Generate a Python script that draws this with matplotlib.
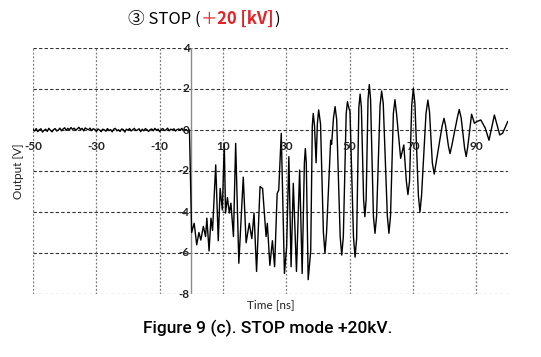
import matplotlib
matplotlib.use("Agg")
import matplotlib.pyplot as plt
import numpy as np

# pre-trigger noise, -50 .. -1 ns
noise_v = [0.03, -0.05, 0.07, -0.08, 0.01, 0.06, -0.10, -0.02, 0.04, -0.07,
           0.08, -0.01, -0.09, 0.02, 0.07, -0.05, 0.00, 0.09, -0.04, 0.05,
           0.11, -0.02, 0.08, 0.01, 0.12, 0.03, 0.09, -0.02, 0.06, 0.13,
           0.02, 0.08, -0.04, 0.10, 0.05, 0.01, 0.09, -0.03, 0.06, 0.03,
           -0.07, 0.05, 0.00, -0.08, 0.04, 0.01, -0.06, 0.07, -0.03, 0.02,
           -0.09, 0.04, 0.08, -0.04, 0.01, -0.07, 0.05, 0.02, -0.10, 0.04,
           -0.01, 0.07, -0.05, 0.02, 0.08, -0.03, 0.00, 0.06, -0.08, 0.04,
           -0.04, 0.07, 0.01, -0.07, 0.02, 0.05, -0.04, 0.08, -0.01, 0.04,
           -0.08, 0.02, 0.07, -0.03, 0.01, 0.09, -0.04, 0.04, 0.00, 0.06,
           -0.05, 0.02, 0.05, -0.01, 0.08, -0.04, 0.02, 0.01, -0.06]

# after trigger
post_t = [-0.6, 0.1, 0.9, 1.7, 2.4, 3.0, 3.8, 4.5, 4.9, 5.6, 6.2, 6.7, 7.7,
          8.5, 9.1, 9.8, 10.4, 10.8, 11.4, 12.0, 12.5, 13.3, 14.0, 15.0, 16.4,
          17.3, 18.3, 19.1, 19.8, 20.6, 21.7, 22.5, 23.6, 24.0, 24.8, 25.6,
          26.3, 27.1, 27.6, 28.4, 29.4, 30.1, 30.8, 31.5, 32.2, 33.2, 34.2,
          35.0, 35.7, 36.0, 36.3, 36.9, 37.3, 37.7, 38.2, 38.5, 38.9, 39.4,
          39.8, 40.2, 40.8, 41.7, 42.2, 42.7, 44.0, 44.3, 44.9, 45.4, 45.9,
          47.0, 47.5, 48.0, 48.9, 49.3, 49.7, 50.1, 51.2, 51.7, 52.2, 52.9,
          53.3, 53.7, 54.4, 54.8, 55.2, 55.8, 56.2, 56.6, 57.5, 58.0, 58.5,
          59.6, 60.1, 60.6, 61.9, 62.4, 62.9, 63.8, 64.3, 64.8, 66.1, 67.1,
          67.9, 68.4, 68.9, 69.6, 70.1, 70.6, 71.7, 72.2, 72.7, 74.1, 74.7,
          75.2, 76.1, 76.7, 77.3, 79.2, 79.8, 80.3, 81.2, 81.7, 82.2, 84.0,
          84.6, 85.2, 86.3, 86.8, 87.3, 88.5, 89.4, 90.3, 91.4, 92.8, 94.0,
          95.7, 97.4, 98.3, 99.9]
post_v = [0.0, -5.0, -4.55, -5.6, -5.0, -5.37, -4.7, -5.2, -4.3, -5.9, -4.3,
          -4.9, -1.7, -5.4, -2.85, -3.9, -0.65, -4.05, -3.3, -4.05, -3.57,
          -5.2, -0.65, -6.5, -2.3, -5.5, -4.55, -5.3, -4.05, -6.9, -2.76,
          -2.85, -5.2, -4.55, -6.6, -5.4, -6.67, -3.1, -2.93, -0.16, -7.0,
          -5.7, -1.3, -6.67, -2.6, -6.9, -1.95,
          -7.0, -1.6, -0.9, -1.6, -7.3, -6.6, -5.9, 0.2, 0.81, 0.2, -1.6,
          0.3, 0.98, 0.3, -5.0, -6.0, -5.0, -0.5, -0.7, 0.6, 1.14, 0.5,
          -5.2, -6.1, -5.2, 0.8, 1.38, 1.1, 0.9, -5.2, -6.2, -5.3, 1.1,
          1.75, 1.1, -3.4, -4.23, -3.4, 1.5, 2.22, 1.5, -4.2, -5.04, -4.2,
          1.2, 1.9, 1.3, -4.2, -5.04, -4.2, 0.8, 1.48, 0.8, -1.38, -0.73,
          -2.5, -3.15, -2.5, 1.2, 2.03, 1.3, -3.2, -4.0, -3.2, 0.8, 1.46,
          0.9, -1.6, -2.15, -1.6, 0.2, 0.57, 0.2, -0.8, -1.15, -0.8, 0.6,
          1.0, 0.6, -0.9, -1.3, -0.8, 0.77, 0.33, 0.42, 0.49, 0.1, -0.5,
          0.73, -0.24, -0.16, 0.41]

x_ticks = [-50, -30, -10, 10, 30, 50, 70, 90]
y_ticks = [4, 2, 0, -2, -4, -6, -8]

tick_font = "Lato"


def main():
    noise_t = np.linspace(-50, -1, len(noise_v))
    t = np.concatenate([noise_t, post_t])
    v = np.concatenate([noise_v, post_v])

    fig = plt.figure(figsize=(5.41, 3.57), dpi=100)
    ax = fig.add_axes([33 / 541, 63 / 357, 475 / 541, 246 / 357])
    ax.set_xlim(-50, 100)
    ax.set_ylim(-8, 4)
    for s in ax.spines.values():
        s.set_visible(False)
    ax.set_xticks([])
    ax.set_yticks([])

    for y in y_ticks:
        ax.axhline(y, color="#333333", lw=0.8, ls=(0, (3, 2)), zorder=1)
    for x in x_ticks:
        ax.axvline(x, color="#777777", lw=0.9, ls=(0, (1.5, 1.5)), zorder=1)
    ax.axvline(0, color="#8a8a8a", lw=1.0, zorder=2)

    ax.plot(t, v, color="black", lw=1.0, zorder=3)

    for y in y_ticks:
        ax.text(-0.6, y, str(y), ha="right", va="center", fontsize=8.5,
                fontweight="bold", family=tick_font, color="#222222", zorder=4)
    for x in x_ticks:
        ax.text(x, -0.8, str(x), ha="center", va="center", fontsize=8.5,
                fontweight="bold", family=tick_font, color="#222222", zorder=4)

    fig.text(271 / 541, 1 - 305 / 357, "Time [ns]", ha="center", va="center",
             fontsize=8.5, family=tick_font, color="#222222")
    fig.text(19 / 541, 1 - 171 / 357, "Output [V]", ha="center", va="center",
             rotation=90, fontsize=8.5, family=tick_font, color="#222222")

    # title in pieces: black / red bold / black
    fam = ["Noto Sans CJK JP", "DejaVu Sans"]
    fig.canvas.draw()
    r = fig.canvas.get_renderer()
    x0 = 128
    yb = 1 - 24 / 357
    parts = [("③ STOP (", "black", "normal"),
             ("＋", "#e02428", "normal"),
             ("20 [kV]", "#e02428", "bold"),
             (")", "black", "normal")]
    for txt, col, w in parts:
        tx = fig.text(x0 / 541, yb, txt, ha="left", va="baseline", fontsize=12,
                      family=fam, color=col, fontweight=w)
        x0 += tx.get_window_extent(r).width

    fig.text(268 / 541, 1 - 328 / 357, "Figure 9 (c). STOP mode +20kV.",
             ha="center", va="center", fontsize=12.5, fontweight="medium",
             family="Roboto", color="black")

    fig.savefig("out.png", dpi=100)


if __name__ == "__main__":
    main()
